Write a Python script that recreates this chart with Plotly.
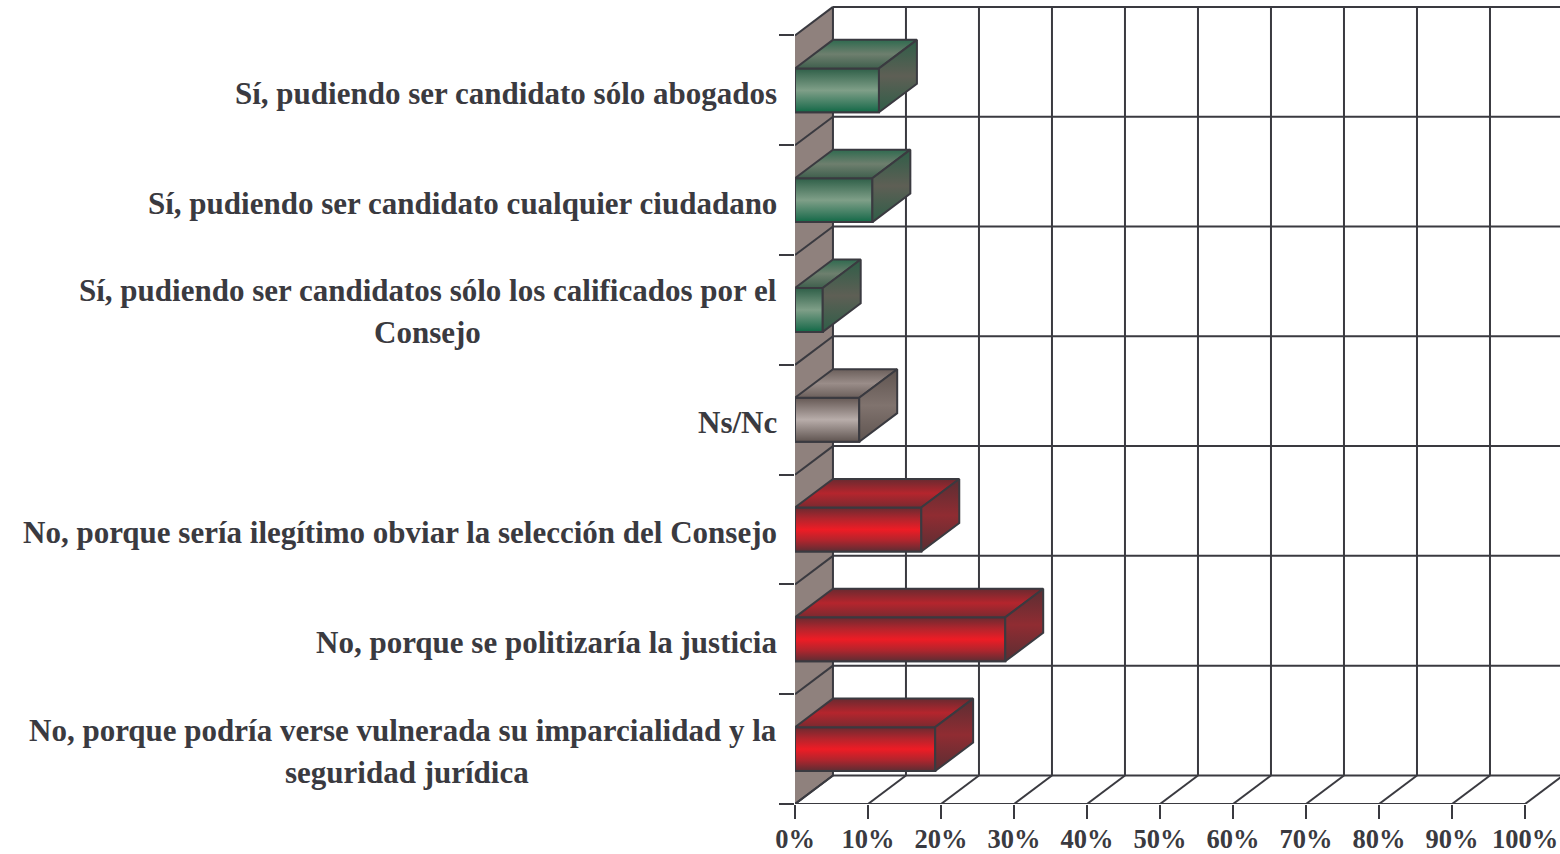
import plotly.graph_objects as go

# ---- data ----
categories = [
    ["Sí, pudiendo ser candidato sólo abogados"],
    ["Sí, pudiendo ser candidato cualquier ciudadano"],
    ["Sí, pudiendo ser candidatos sólo los calificados por el", "Consejo"],
    ["Ns/Nc"],
    ["No, porque sería ilegítimo obviar la selección del Consejo"],
    ["No, porque se politizaría la justicia"],
    ["No, porque podría verse vulnerada su imparcialidad y la", "seguridad jurídica"],
]
values = [11.5, 10.6, 3.8, 8.8, 17.3, 28.8, 19.2]
groups = ["si", "si", "si", "ns", "no", "no", "no"]
x_ticks = list(range(0, 101, 10))
y_ticks = list(range(0, 8))

# ---- style ----
INK = "#3a3a40"
WALL = "#8f817d"
LW = 2
DX, DY = 5.2, 0.26          # oblique depth in axis units
BAR_H = 0.40
FONT = "Liberation Serif"
SECOND_LINE_CENTER = {2: 427 - 795, 6: 407 - 795}
FRONT = {
    "si": [[0, "#2f5f48"], [.5, "#7f9f88"], [.9, "#2a7355"], [1, "#0e6b45"]],
    "ns": [[0, "#655854"], [.5, "#b8adaa"], [1, "#5f5450"]],
    "no": [[0, "#6a2a30"], [.25, "#b0252d"], [.5, "#ee1c25"], [.75, "#b0252d"], [1, "#5c2d33"]],
}
TOP = {
    "si": [[0, "#2f6a4f"], [.5, "#6e7f6e"], [1, "#3f5f4d"]],
    "ns": [[0, "#6b5f5b"], [.5, "#9a8d89"], [1, "#6b5f5b"]],
    "no": [[0, "#6a2a30"], [.5, "#b5252d"], [1, "#7a2a30"]],
}
SIDE = {
    "si": [[0, "#2f5e48"], [.5, "#5e5f55"], [1, "#2f5e48"]],
    "ns": [[0, "#5f5450"], [.5, "#80736e"], [1, "#5f5450"]],
    "no": [[0, "#5a2e33"], [.5, "#902c32"], [1, "#5a2e33"]],
}
MID = {"si": "#5f8a70", "ns": "#948884", "no": "#b0252d"}

n = len(categories)
centers = [n - 0.5 - i for i in range(n)]
fig = go.Figure()

# walls and grid
line = dict(color=INK, width=LW)
top_y = n
shapes = [dict(type="path", layer="below", xref="x", yref="y", line=dict(width=0), fillcolor=WALL,
               path=f"M 0 0 L {DX} {DY} L {DX} {top_y + DY} L 0 {top_y} Z")]
def seg(x0, y0, x1, y1):
    return dict(type="line", layer="below", xref="x", yref="y", x0=x0, y0=y0, x1=x1, y1=y1, line=line)
for k in y_ticks:
    shapes.append(seg(0, k, DX, k + DY))
    shapes.append(seg(DX, k + DY, 110, k + DY))
for t in x_ticks:
    shapes.append(seg(t, 0, t + DX, DY))
    shapes.append(seg(t + DX, DY, t + DX, top_y + DY))
shapes.append(seg(0, 0, 100, 0))
fig.update_layout(shapes=shapes)

# front faces as real bars
fig.add_trace(go.Bar(
    x=values, y=centers, orientation="h", width=BAR_H, base=0,
    marker=dict(color=[MID[g] for g in groups], line=dict(color=INK, width=LW)),
    showlegend=False, hoverinfo="skip",
))

def face(xs, ys, scale):
    fig.add_trace(go.Scatter(
        x=xs, y=ys, mode="lines", fill="toself", line=line, showlegend=False, hoverinfo="skip",
        fillgradient=dict(type="vertical", colorscale=scale),
    ))

for v, c, g in zip(values, centers, groups):
    lo, hi = c - BAR_H / 2, c + BAR_H / 2
    face([0, v, v, 0, 0], [lo, lo, hi, hi, lo], [[1 - p, col] for p, col in reversed(FRONT[g])])
    face([0, v, v + DX, DX, 0], [hi, hi, hi + DY, hi + DY, hi], [[1 - p, col] for p, col in reversed(TOP[g])])
    face([v, v + DX, v + DX, v, v], [lo, lo + DY, hi + DY, hi, lo], [[1 - p, col] for p, col in reversed(SIDE[g])])

# category labels
annotations = []
for i, (lines, c) in enumerate(zip(categories, centers)):
    if len(lines) == 1:
        annotations.append(dict(text=lines[0], xref="paper", yref="y", x=0, y=c, xanchor="right",
                                yanchor="middle", xshift=-17, yshift=-3, showarrow=False))
    else:
        annotations.append(dict(text=lines[0], xref="paper", yref="y", x=0, y=c, xanchor="right",
                                yanchor="middle", xshift=-17, yshift=19, showarrow=False))
        annotations.append(dict(text=lines[1], xref="paper", yref="y", x=0, y=c, xanchor="center",
                                yanchor="middle", xshift=SECOND_LINE_CENTER[i], yshift=-23, showarrow=False))
for a in annotations:
    a["font"] = dict(family=FONT, size=31, color=INK, weight="bold")
    a["borderpad"] = 0

fig.update_layout(
    annotations=annotations,
    width=1560, height=854,
    margin=dict(l=795, r=0, t=0, b=49.5, pad=0, autoexpand=False),
    paper_bgcolor="white", plot_bgcolor="white",
    showlegend=False,
    xaxis=dict(range=[0, 104.79], tickvals=x_ticks, ticktext=[f"{t}%" for t in x_ticks], automargin=False,
               ticks="outside", ticklen=14, tickwidth=LW, tickcolor=INK, ticklabelstandoff=-3,
               showgrid=False, zeroline=False, showline=False,
               tickangle=0, tickfont=dict(family=FONT, size=26.5, color=INK, weight="bold")),
    yaxis=dict(range=[0, 7.323], tickvals=y_ticks, showticklabels=False, automargin=False,
               ticks="outside", ticklen=15, tickwidth=LW, tickcolor=INK,
               showgrid=False, zeroline=False, showline=False),
)
fig.write_html("out.html", post_script="document.body.style.margin='0';document.body.style.overflow='hidden';",
               config={"displayModeBar": False})
